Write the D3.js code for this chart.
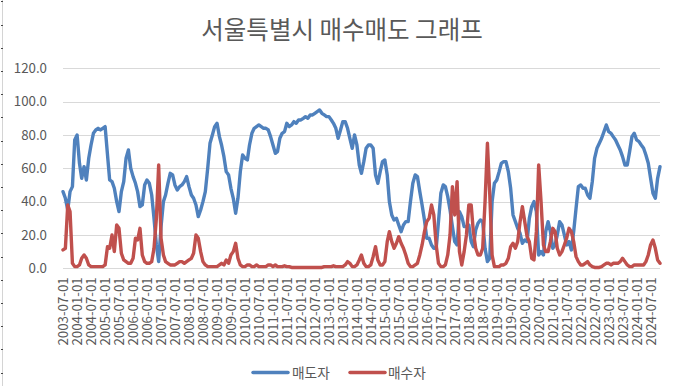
<!DOCTYPE html>
<html><head><meta charset="utf-8">
<script src="https://cdn.jsdelivr.net/npm/d3@7"></script>
<style>
body{margin:0;background:#fff;}
svg{display:block;}
</style></head><body>
<svg id="c" width="674" height="386"></svg>
<script>
const chartTitle = "서울특별시 매수매도 그래프";
const seriesNames = ["매도자", "매수자"];
const seriesColors = ["#4F81BD", "#C0504D"];
const firstMonth = [2003, 6]; // 2003-07
const yTickValues = [0, 20, 40, 60, 80, 100, 120];

// 매도자 (monthly, from 2003-07)
const sellers = [
46,42,35,46,49,77,80,63,54,61,
53,66,74,81,83,84,83,84,85,68,
53,52,48,40,34,46,52,66,71,60,
55,51,46,37,38,50,53,51,44,30,
14,4,25,40,44,51,57,56,50,47,
49,50,52,55,49,44,42,38,31,35,
40,46,60,75,80,85,87,79,74,67,
58,56,48,42,33,42,58,68,66,65,
74,81,84,85,86,85,84,84,83,79,
74,69,70,78,81,82,87,85,86,88,
87,89,89,90,91,90,92,92,93,94,
95,93,92,91,91,89,87,84,78,83,
88,88,84,78,72,80,74,62,57,64,
72,74,74,72,56,51,58,64,65,56,
40,32,29,30,26,22,26,28,28,40,
51,56,55,46,38,29,18,18,14,12,
12,28,45,50,49,43,35,25,16,14,
34,31,25,25,26,16,13,23,27,29,
28,12,4,6,40,51,53,58,63,64,
64,58,48,32,28,24,21,15,17,16,
30,37,40,34,8,10,8,22,28,22,
12,14,20,28,26,20,14,16,11,22,
36,49,50,48,48,44,42,52,66,72,
75,78,82,86,82,81,79,77,74,71,
67,62,62,70,79,81,77,76,74,72,
68,63,54,45,42,54,61
];

// 매수자 (monthly, from 2003-07)
const buyers = [
11,12,38,34,3,1,1,2,6,8,
6,2,1,1,1,1,1,1,2,13,
12,20,10,26,24,9,5,4,3,3,
6,18,17,24,8,4,3,3,4,12,
30,62,18,8,4,3,2,2,2,3,
4,4,3,4,5,6,9,20,18,10,
4,2,1,1,1,1,1,2,3,2,
5,3,8,10,15,6,2,1,1,2,
2,1,1,2,1,1,1,1,2,2,
1,2,1,1,1,1.5,1,1,0.5,0.5,
0.5,0.5,0.5,0.5,0.5,0.5,0.5,0.5,0.5,0.5,
0.5,0.5,1,1,1,1,1.5,1,1,1,
1,2,4,3,1,1,2,5,8,3,
1,1,2,7,13,5,2,2,4,16,
22,16,12,15,19,15,12,8,3,1,
1,2,3,8,14,22,28,30,38,32,
14,3,1,1,2,8,20,49,32,52,
10,2,10,20,38,38,22,12,8,8,
12,40,75,45,8,1,1,1,2,2,
3,6,13,15,12,16,28,37,28,19,
16,6,5,22,62,40,14,10,10,16,
24,22,12,8,10,14,18,24,22,16,
7,4,2,2,3,4,2,1,0.5,0.5,
0.5,1,2,3,3,2,3,3,3,4,
6,4,2,1,1,2,2,2,2,2,
4,8,14,17,12,5,3
];

const svg = d3.select("#c");
const font = "'Noto Sans CJK KR','Noto Sans',sans-serif";
const txtColor = "#595959";

const months = sellers.map((_, i) => new Date(firstMonth[0], firstMonth[1] + i, 1));
const x = d3.scaleTime().domain([months[0], months[months.length - 1]]).range([63, 660]);
const y = d3.scaleLinear().domain([0, 120]).range([268.3, 68.3]);

// left sheet edge artifact
svg.append("line").attr("x1", 2.5).attr("x2", 2.5).attr("y1", 0).attr("y2", 386)
  .attr("stroke", "#d4d4d4").attr("stroke-width", 1);
d3.range(1.4, 386, 23.2).forEach(v => {
  svg.append("rect").attr("x", 1).attr("y", Math.round(v)).attr("width", 2).attr("height", 1).attr("fill", "#444");
});

// title
svg.append("text").attr("x", 342).attr("y", 39).attr("text-anchor", "middle")
  .attr("font-family", font).attr("font-size", 24.5).attr("fill", txtColor).text(chartTitle);

// gridlines
const gGrid = svg.append("g");
yTickValues.forEach(v => {
  const yy = Math.round(y(v)) + 0.5;
  gGrid.append("line").attr("x1", 63).attr("x2", 660).attr("y1", yy).attr("y2", yy)
    .attr("stroke", "#d9d9d9").attr("stroke-width", 1);
});

// y axis labels
const yAxis = d3.axisLeft(y).tickValues(yTickValues).tickFormat(d3.format(".1f")).tickSize(0).tickPadding(0);
const gy = svg.append("g").attr("transform", "translate(47,0)").call(yAxis);
gy.select(".domain").remove();
gy.selectAll("text").attr("font-family", font).attr("font-size", 13.3).attr("fill", txtColor);

// x axis labels
const xTickValues = d3.timeMonth.range(new Date(2003, 6, 1), new Date(2024, 7, 1), 6);
const xAxis = d3.axisBottom(x).tickValues(xTickValues).tickFormat(d3.timeFormat("%Y-%m-%d")).tickSize(0).tickPadding(0);
const gx = svg.append("g").attr("transform", `translate(0,${y(0)})`).call(xAxis);
gx.select(".domain").remove();
gx.selectAll("text")
  .attr("font-family", font).attr("font-size", 13.3).attr("fill", txtColor)
  .attr("text-anchor", "end").attr("transform", "rotate(-90)")
  .attr("x", -9).attr("y", 0).attr("dy", "0.35em");

// lines
const line = d3.line().x((d, i) => x(months[i])).y(d => y(d));
[sellers, buyers].forEach((s, k) => {
  svg.append("path").datum(s).attr("d", line).attr("fill", "none")
    .attr("stroke", seriesColors[k]).attr("stroke-width", 3.4)
    .attr("stroke-linejoin", "round").attr("stroke-linecap", "round");
});

// legend
const legendItems = [{x: 253, tx: 292}, {x: 350, tx: 388}];
legendItems.forEach((it, k) => {
  svg.append("line").attr("x1", it.x).attr("x2", it.x + 35).attr("y1", 372.5).attr("y2", 372.5)
    .attr("stroke", seriesColors[k]).attr("stroke-width", 3.5).attr("stroke-linecap", "round");
  svg.append("text").attr("x", it.tx).attr("y", 377.5).attr("font-family", font)
    .attr("font-size", 13.7).attr("fill", txtColor).text(seriesNames[k]);
});
</script>
</body></html>
